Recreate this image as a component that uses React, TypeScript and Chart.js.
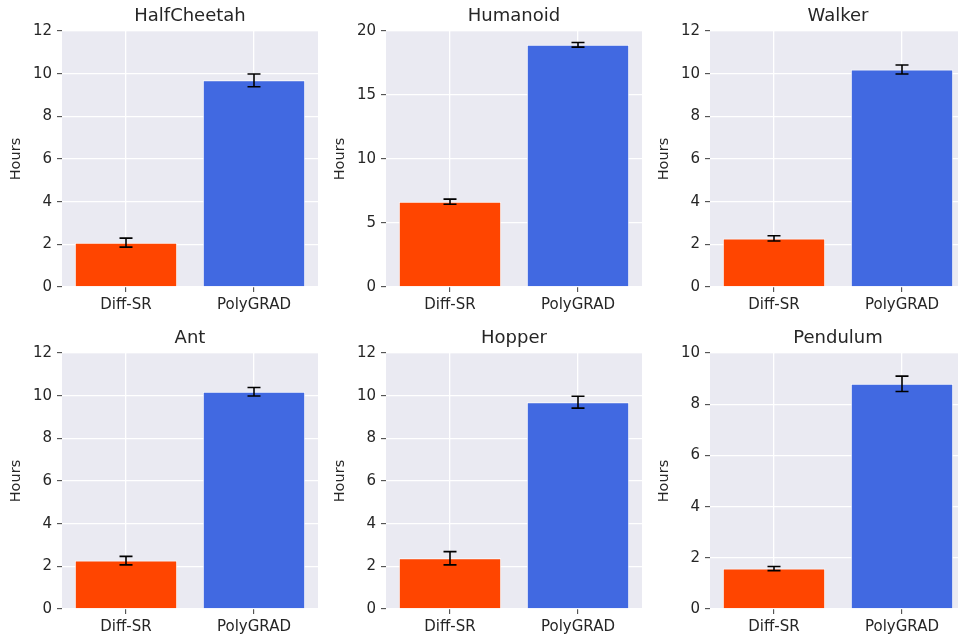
import React, { useEffect, useRef } from "react";
import { Chart, registerables } from "chart.js";

Chart.register(...registerables);

const ENVS = ["HalfCheetah", "Humanoid", "Walker", "Ant", "Hopper", "Pendulum"];
const METHODS = ["Diff-SR", "PolyGRAD"];
const DIFFSR_HOURS = [2.08, 6.67, 2.28, 2.27, 2.38, 1.58];
const DIFFSR_ERR = [0.21, 0.2, 0.12, 0.2, 0.31, 0.08];
const POLYGRAD_HOURS = [9.69, 18.93, 10.2, 10.19, 9.7, 8.8];
const POLYGRAD_ERR = [0.3, 0.18, 0.21, 0.2, 0.28, 0.3];
const Y_MAX = [12, 20, 12, 12, 12, 10];
const Y_STEP = [2, 5, 2, 2, 2, 2];
const Y_LABEL = "Hours";

const BAR_COLORS = ["#FF4500", "#4169E1"];
const FONT = "'DejaVu Sans', sans-serif";
const AXIS_W = 62;
const PLOT_W = 256;
const CANVAS_W = AXIS_W * 2 + PLOT_W;
const CANVAS_H = 321;

const bgPlugin = {
  id: "plotBg",
  beforeDraw(chart: any) {
    const { ctx, chartArea } = chart;
    ctx.save();
    ctx.fillStyle = "#EAEAF2";
    ctx.fillRect(chartArea.left, chartArea.top, chartArea.right - chartArea.left, chartArea.bottom - chartArea.top);
    ctx.restore();
  },
};

const errPlugin = {
  id: "errBars",
  afterDatasetsDraw(chart: any) {
    const { ctx } = chart;
    const yScale = chart.scales.y;
    chart.data.datasets.forEach((ds: any, di: number) => {
      const meta = chart.getDatasetMeta(di);
      meta.data.forEach((bar: any, i: number) => {
        const v = ds.data[i];
        const e = ds.errors[i];
        const yTop = yScale.getPixelForValue(v + e);
        const yBot = yScale.getPixelForValue(v - e);
        const x = bar.x;
        ctx.save();
        ctx.strokeStyle = "#000";
        ctx.lineWidth = 1.6;
        ctx.beginPath();
        ctx.moveTo(x, yTop);
        ctx.lineTo(x, yBot);
        ctx.moveTo(x - 6.5, yTop);
        ctx.lineTo(x + 6.5, yTop);
        ctx.moveTo(x - 6.5, yBot);
        ctx.lineTo(x + 6.5, yBot);
        ctx.stroke();
        ctx.restore();
      });
    });
  },
};

function Panel({ idx, left, top }: { idx: number; left: number; top: number }) {
  const ref = useRef<HTMLCanvasElement>(null);
  useEffect(() => {
    if (!ref.current) return;
    const chart = new Chart(ref.current, {
      type: "bar",
      data: {
        labels: METHODS,
        datasets: [
          {
            data: [DIFFSR_HOURS[idx], POLYGRAD_HOURS[idx]],
            errors: [DIFFSR_ERR[idx], POLYGRAD_ERR[idx]],
            backgroundColor: BAR_COLORS,
            borderColor: "rgba(255,255,255,0.85)",
            borderWidth: 1,
            categoryPercentage: 1,
            barPercentage: 0.8,
            yAxisID: "y",
          } as any,
        ],
      },
      options: {
        animation: false,
        responsive: false,
        maintainAspectRatio: false,
        layout: { padding: 0 },
        plugins: {
          legend: { display: false },
          tooltip: { enabled: false },
          title: {
            display: true,
            text: ENVS[idx],
            color: "#262626",
            font: { family: FONT, size: 18, weight: "normal", lineHeight: 1.2 },
            padding: { top: 5.5, bottom: 4 },
          },
        },
        scales: {
          x: {
            offset: true,
            grid: {
              offset: false,
              color: "#FFFFFF",
              lineWidth: 1.3,
              drawTicks: true,
              tickLength: 5,
              tickColor: "#3a3a3a",
              tickWidth: 1,
            },
            border: { display: false },
            ticks: {
              color: "#262626",
              font: { family: FONT, size: 15 },
              padding: 4,
              maxRotation: 0,
            },
            afterFit(scale: any) {
              scale.height = 34;
            },
          },
          y: {
            min: 0,
            max: Y_MAX[idx],
            grid: {
              color: "#FFFFFF",
              lineWidth: 1.3,
              drawTicks: true,
              tickLength: 5,
              tickColor: "#3a3a3a",
              tickWidth: 1,
            },
            border: { display: false },
            ticks: {
              stepSize: Y_STEP[idx],
              color: "#262626",
              font: { family: FONT, size: 15 },
              padding: 5,
            },
            title: {
              display: true,
              text: Y_LABEL,
              color: "#262626",
              font: { family: FONT, size: 14.5 },
              padding: { top: 8, bottom: 4 },
            },
            afterFit(scale: any) {
              scale.width = AXIS_W;
            },
          },
          yPad: {
            type: "linear",
            position: "right",
            display: true,
            grid: { display: false },
            ticks: { display: false },
            border: { display: false },
            afterFit(scale: any) {
              scale.width = AXIS_W;
            },
          },
        },
      } as any,
      plugins: [bgPlugin, errPlugin],
    });
    return () => chart.destroy();
  }, [idx]);
  return (
    <canvas
      ref={ref}
      width={CANVAS_W}
      height={CANVAS_H}
      style={{ position: "absolute", left, top, width: CANVAS_W, height: CANVAS_H }}
    />
  );
}

export default function App() {
  const colLefts = [0, 324, 648];
  const rowTops = [0, 322];
  return (
    <div
      style={{
        position: "fixed",
        left: 0,
        top: 0,
        width: 958,
        height: 634,
        overflow: "hidden",
        background: "#FFFFFF",
      }}
    >
      {ENVS.map((_, i) => (
        <Panel key={i} idx={i} left={colLefts[i % 3]} top={rowTops[Math.floor(i / 3)]} />
      ))}
    </div>
  );
}
